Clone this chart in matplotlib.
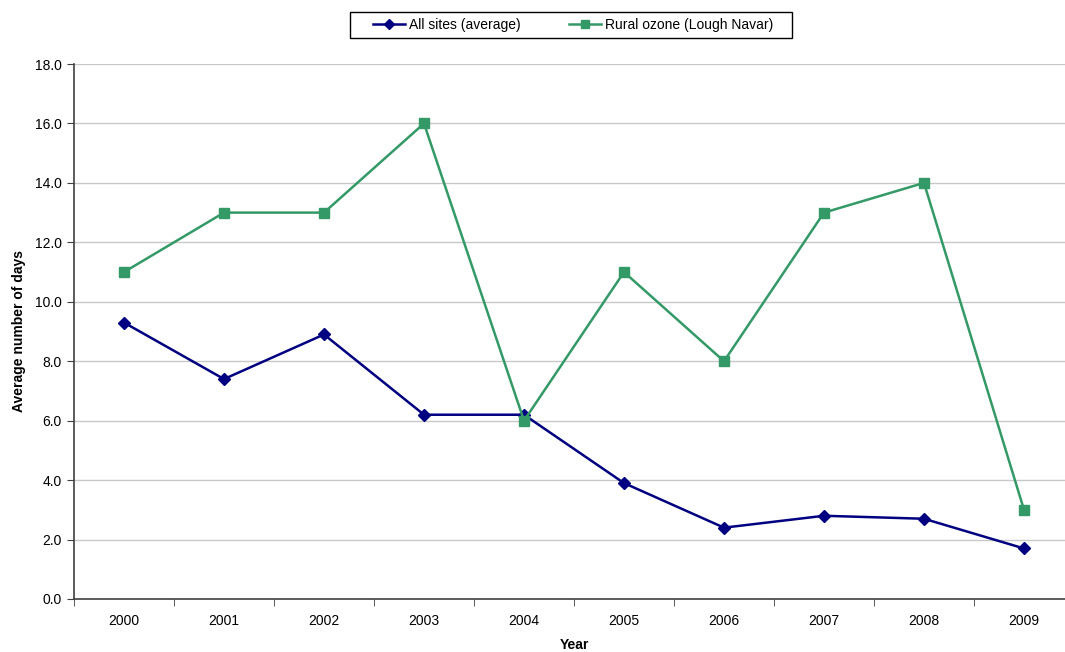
import matplotlib.pyplot as plt
import matplotlib.transforms as mtransforms
from matplotlib.patches import Rectangle
import numpy as np

years = ['2000', '2001', '2002', '2003', '2004', '2005', '2006', '2007', '2008', '2009']
all_sites = [9.3, 7.4, 8.9, 6.2, 6.2, 3.9, 2.4, 2.8, 2.7, 1.7]
rural_ozone = [11, 13, 13, 16, 6, 11, 8, 13, 14, 3]

plt.rcParams['font.family'] = ['Liberation Sans', 'DejaVu Sans']

W, H = 1065, 652
fig = plt.figure(figsize=(W / 100, H / 100), dpi=100)
# plot area runs off the right edge of the figure
ax = fig.add_axes([74 / W, 1 - 599 / H, 1000 / W, 535 / H])

x = np.arange(len(years))
ax.plot(x, all_sites, color='#000080', marker='D', markersize=6.5, lw=1.8,
        label='All sites (average)', zorder=3)
ax.plot(x, rural_ozone, color='#339966', marker='s', markersize=7, lw=1.8,
        label='Rural ozone (Lough Navar)', zorder=3)

ax.set_xlim(-0.5, len(years) - 0.5)
ax.set_ylim(0, 18)
ax.set_yticks(np.arange(0, 18.1, 2))
ax.set_yticklabels([f'{v:.1f}' for v in np.arange(0, 18.1, 2)])
ax.set_xticks(x)
ax.set_xticklabels(years)
ax.set_xticks(np.arange(-0.5, len(years), 1), minor=True)
ax.tick_params(axis='x', which='major', length=0, pad=11, labelsize=10)
ax.tick_params(axis='x', which='minor', length=5, color='#404040')
ax.tick_params(axis='y', length=5, color='#404040', labelsize=10, pad=4)

ax.grid(axis='y', color='#c8c8c8', lw=1)
ax.set_axisbelow(True)
for s in ['top', 'right']:
    ax.spines[s].set_visible(False)
for s in ['left', 'bottom']:
    ax.spines[s].set_color('#404040')
    ax.spines[s].set_linewidth(1.2)

# axis titles placed in figure pixels
px = mtransforms.Affine2D().scale(1 / W, 1 / H) + fig.transFigure
ax.set_xlabel('Year', fontsize=10, fontweight='bold', va='center')
ax.xaxis.set_label_coords(574, H - 645, transform=px)
ax.set_ylabel('Average number of days', fontsize=10, fontweight='bold', va='center')
ax.yaxis.set_label_coords(19, H - 331, transform=px)

# legend entries without their own frame; a wider box is drawn around them
leg = fig.legend(loc='center', bbox_to_anchor=(573 / W, 1 - 25 / H), ncol=2,
                 frameon=False, fontsize=10,
                 handlelength=2.3, handletextpad=0.3, columnspacing=3.5,
                 borderpad=0.4, borderaxespad=0, markerscale=0.85)
fig.patches.append(Rectangle((350, H - 38), 442, 26, transform=px, fill=False,
                             edgecolor='black', lw=1))

fig.savefig('out.png', dpi=100)
